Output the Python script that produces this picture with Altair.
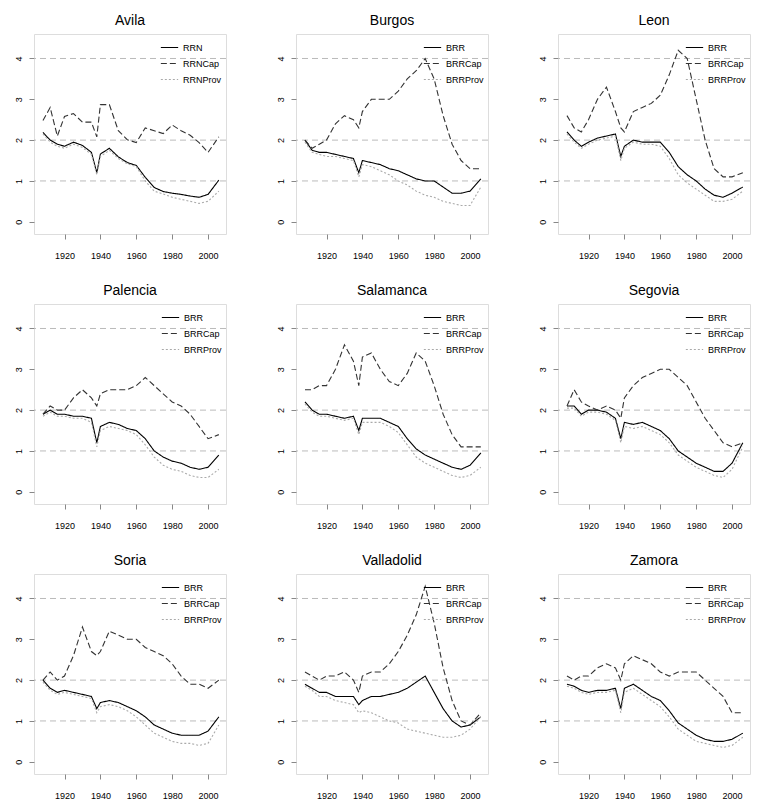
import altair as alt
import pandas as pd

years = [1908,1912,1916,1920,1925,1930,1935,1938,1940,1945,1950,1955,1960,1965,1970,1975,1980,1985,1990,1995,2000,2006]

provinces = ["Avila","Burgos","Leon","Palencia","Salamanca","Segovia","Soria","Valladolid","Zamora"]

brr = {
 "Avila":[2.19,2.0,1.9,1.85,1.95,1.87,1.7,1.2,1.66,1.8,1.59,1.45,1.38,1.09,0.84,0.74,0.7,0.67,0.63,0.6,0.67,1.02],
 "Burgos":[2.0,1.75,1.7,1.7,1.65,1.6,1.55,1.2,1.5,1.45,1.4,1.3,1.25,1.15,1.05,1.0,1.0,0.85,0.7,0.7,0.75,1.05],
 "Leon":[2.2,2.0,1.85,1.95,2.05,2.1,2.15,1.6,1.85,2.0,1.95,1.95,1.95,1.7,1.35,1.15,1.0,0.8,0.65,0.6,0.7,0.85],
 "Palencia":[1.9,2.0,1.9,1.9,1.85,1.85,1.8,1.2,1.6,1.7,1.65,1.55,1.5,1.3,1.0,0.85,0.75,0.7,0.6,0.55,0.6,0.9],
 "Salamanca":[2.2,2.0,1.9,1.9,1.85,1.8,1.85,1.5,1.8,1.8,1.8,1.7,1.6,1.3,1.05,0.9,0.8,0.7,0.6,0.55,0.65,0.95],
 "Segovia":[2.1,2.1,1.9,2.0,2.0,1.95,1.8,1.3,1.7,1.65,1.7,1.6,1.5,1.3,1.0,0.85,0.7,0.6,0.5,0.5,0.7,1.2],
 "Soria":[2.0,1.8,1.7,1.75,1.7,1.65,1.6,1.3,1.45,1.5,1.45,1.35,1.25,1.1,0.9,0.8,0.7,0.65,0.65,0.65,0.75,1.1],
 "Valladolid":[1.9,1.8,1.7,1.7,1.6,1.6,1.6,1.4,1.5,1.6,1.6,1.65,1.7,1.8,1.95,2.1,1.7,1.3,1.0,0.85,0.9,1.1],
 "Zamora":[1.9,1.85,1.75,1.7,1.75,1.75,1.8,1.3,1.8,1.9,1.75,1.6,1.5,1.25,0.95,0.8,0.65,0.55,0.5,0.5,0.55,0.7],
}
cap = {
 "Avila":[2.48,2.8,2.1,2.58,2.65,2.44,2.44,2.08,2.87,2.87,2.23,2.01,1.94,2.3,2.23,2.16,2.37,2.23,2.12,1.94,1.7,2.08],
 "Burgos":[2.0,1.8,1.9,2.0,2.4,2.6,2.5,2.3,2.7,3.0,3.0,3.0,3.2,3.5,3.7,4.0,3.5,2.6,1.9,1.5,1.3,1.3],
 "Leon":[2.6,2.3,2.2,2.5,3.0,3.3,2.7,2.3,2.2,2.7,2.8,2.9,3.1,3.6,4.2,4.0,3.0,2.0,1.3,1.1,1.1,1.2],
 "Palencia":[1.9,2.1,2.0,2.0,2.3,2.5,2.3,2.1,2.4,2.5,2.5,2.5,2.6,2.8,2.6,2.4,2.2,2.1,1.9,1.6,1.3,1.4],
 "Salamanca":[2.5,2.5,2.6,2.6,3.0,3.6,3.2,2.6,3.3,3.4,3.0,2.7,2.6,2.9,3.4,3.2,2.6,1.9,1.4,1.1,1.1,1.1],
 "Segovia":[2.1,2.5,2.2,2.1,2.0,2.1,2.0,1.8,2.3,2.6,2.8,2.9,3.0,3.0,2.8,2.6,2.2,1.8,1.5,1.2,1.1,1.2],
 "Soria":[2.0,2.2,2.0,2.1,2.6,3.3,2.7,2.6,2.7,3.2,3.1,3.0,3.0,2.8,2.7,2.6,2.4,2.1,1.9,1.9,1.8,2.0],
 "Valladolid":[2.2,2.1,2.0,2.1,2.1,2.2,2.0,1.7,2.1,2.2,2.2,2.4,2.7,3.1,3.6,4.3,3.4,2.3,1.5,1.0,0.9,1.2],
 "Zamora":[2.1,2.0,2.1,2.1,2.3,2.4,2.3,2.0,2.4,2.6,2.5,2.4,2.2,2.1,2.2,2.2,2.2,2.0,1.8,1.6,1.2,1.2],
}
prov = {
 "Avila":[2.15,1.95,1.85,1.8,1.9,1.82,1.65,1.15,1.6,1.75,1.55,1.42,1.35,1.0,0.75,0.68,0.6,0.55,0.5,0.45,0.5,0.75],
 "Burgos":[1.95,1.7,1.65,1.6,1.6,1.55,1.5,1.1,1.4,1.35,1.25,1.15,1.0,0.9,0.75,0.65,0.6,0.5,0.45,0.4,0.4,0.85],
 "Leon":[2.15,1.95,1.8,1.9,2.0,2.05,2.1,1.5,1.8,1.95,1.9,1.9,1.85,1.55,1.15,0.95,0.8,0.65,0.5,0.5,0.55,0.75],
 "Palencia":[1.85,1.95,1.85,1.85,1.8,1.8,1.7,1.1,1.5,1.6,1.55,1.5,1.4,1.15,0.85,0.65,0.55,0.5,0.4,0.35,0.35,0.55],
 "Salamanca":[2.15,1.95,1.85,1.85,1.8,1.75,1.8,1.4,1.7,1.7,1.7,1.6,1.45,1.15,0.85,0.7,0.6,0.5,0.4,0.35,0.4,0.6],
 "Segovia":[2.05,2.05,1.85,1.95,1.95,1.9,1.75,1.2,1.6,1.55,1.6,1.5,1.4,1.2,0.9,0.75,0.6,0.5,0.4,0.35,0.55,1.1],
 "Soria":[1.95,1.75,1.65,1.7,1.65,1.6,1.55,1.2,1.35,1.4,1.35,1.25,1.1,0.9,0.7,0.6,0.5,0.45,0.45,0.4,0.45,0.9],
 "Valladolid":[1.85,1.75,1.6,1.6,1.5,1.45,1.4,1.2,1.25,1.2,1.1,1.0,0.95,0.8,0.75,0.7,0.65,0.6,0.6,0.65,0.8,1.1],
 "Zamora":[1.85,1.8,1.7,1.65,1.7,1.7,1.75,1.2,1.7,1.8,1.65,1.5,1.35,1.1,0.8,0.65,0.5,0.45,0.4,0.35,0.4,0.6],
}
ref_lines = [1, 2, 4]

FONT = "Liberation Sans"

def panel(name):
    p = "RRN" if name == "Avila" else "BRR"
    names = [p, p + "Cap", p + "Prov"]
    rows = []
    for s, d in zip(names, [brr, cap, prov]):
        for y, v in zip(years, d[name]):
            rows.append({"year": y, "value": v, "series": s})
    df = pd.DataFrame(rows)
    x = alt.X("year:Q", scale=alt.Scale(domain=[1903, 2010], nice=False),
              axis=alt.Axis(values=[1920, 1940, 1960, 1980, 2000], title=None, grid=False,
                            format="d", labelFontSize=9, domain=False, tickSize=5, labelPadding=12))
    y = alt.Y("value:Q", scale=alt.Scale(domain=[-0.3, 4.6], nice=False),
              axis=alt.Axis(values=[0, 1, 2, 3, 4], title=None, grid=False, labelAngle=270,
                            labelFontSize=9, domain=False, tickSize=5, labelPadding=6,
                            labelBaseline="bottom", labelAlign="center"))
    rules = alt.Chart(pd.DataFrame({"v": ref_lines})).mark_rule(
        color="#bbbbbb", strokeDash=[6, 4], strokeWidth=1).encode(y=alt.Y("v:Q"))
    leg = alt.Legend(title=None, orient="top-right", labelFontSize=9, symbolType="stroke",
                     symbolSize=300, rowPadding=1, offset=4, labelFont=FONT, symbolStrokeWidth=1.2)
    lines = alt.Chart(df).mark_line(strokeWidth=1.1).encode(
        x=x, y=y,
        color=alt.Color("series:N", sort=names,
                        scale=alt.Scale(domain=names, range=["#000000", "#333333", "#aaaaaa"]),
                        legend=leg),
        strokeDash=alt.StrokeDash("series:N", sort=names,
                                  scale=alt.Scale(domain=names, range=[[1, 0], [6, 3], [2, 2]]),
                                  legend=leg),
    )
    return alt.layer(rules, lines).properties(
        width=192, height=200,
        title=alt.TitleParams(name, fontSize=14, font=FONT, fontWeight="normal", offset=6))

rows = []
for i in range(3):
    rows.append(alt.hconcat(*[panel(n) for n in provinces[i*3:(i+1)*3]], spacing=48)
                .resolve_scale(color="independent", strokeDash="independent"))
chart = (alt.vconcat(*rows, spacing=22)
         .resolve_scale(color="independent", strokeDash="independent")
         .configure_view(stroke="#555555")
         .configure_axis(labelFont=FONT, tickColor="#555555")
         .configure(font=FONT))
chart.save("out.html", embed_options={"renderer": "svg", "actions": False})
